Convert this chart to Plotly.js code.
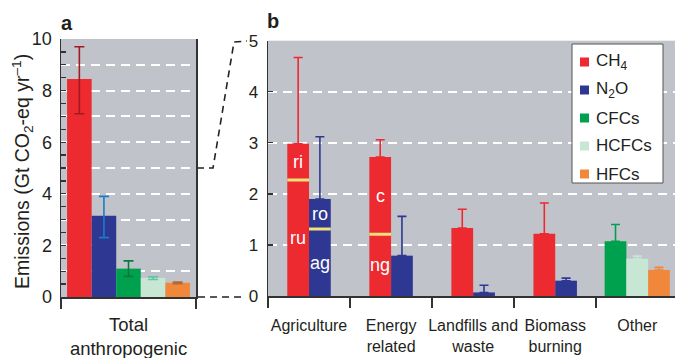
<!DOCTYPE html>
<html>
<head>
<meta charset="utf-8">
<script src="https://cdn.plot.ly/plotly-3.0.1.min.js"></script>
<style>html,body{margin:0;padding:0;background:#fff;overflow:hidden}#chart{width:675px;height:358px}</style>
</head>
<body>
<div id="chart"></div>
<script>
// ---------- data ----------
const seriesNames = ['CH<sub>4</sub>', 'N<sub>2</sub>O', 'CFCs', 'HCFCs', 'HFCs'];

// Panel a: total anthropogenic
const totalCategory = ['Total<br>anthropogenic'];
const totalValues = [8.45, 3.15, 1.10, 0.74, 0.55];
const totalLow    = [7.10, 2.30, 0.80, 0.68, 0.52];
const totalHigh   = [9.70, 3.90, 1.40, 0.78, 0.58];

// Panel b: by sector
const sectors = ['Agriculture', 'Energy<br>related', 'Landfills and<br>waste', 'Biomass<br>burning', 'Other'];
const ch4Values  = [2.98, 2.72, 1.33, 1.22, null];
const ch4High    = [4.67, 3.06, 1.70, 1.82, null];
const n2oValues  = [1.90, 0.79, 0.07, 0.30, null];
const n2oHigh    = [3.12, 1.56, 0.21, 0.35, null];
const cfcValues  = [null, null, null, null, 1.07];
const cfcHigh    = [null, null, null, null, 1.40];
const hcfcValues = [null, null, null, null, 0.73];
const hcfcHigh   = [null, null, null, null, 0.78];
const hfcValues  = [null, null, null, null, 0.51];
const hfcHigh    = [null, null, null, null, 0.56];

// sub-source splits inside bars (boundary value, label below, label above)
const ch4Split      = [2.27, 1.21, null, null, null];
const ch4LowerLabel = ['ru', 'ng', null, null, null];
const ch4UpperLabel = ['ri', 'c', null, null, null];
const n2oSplit      = [1.31, null, null, null, null];
const n2oLowerLabel = ['ag', null, null, null, null];
const n2oUpperLabel = ['ro', null, null, null, null];

const yTitle = 'Emissions (Gt CO<sub>2</sub>-eq yr<sup>–1</sup>)';
const panelAGridVals = [1, 3, 5, 7, 9]; // gridlines between the labelled ticks

// ---------- style ----------
const FONT = 'Liberation Sans, Arial, Helvetica, sans-serif';
const TXT = '#231f20';
const seriesColors = ['#ec2a30', '#2e3893', '#00a14e', '#c7e7d4', '#f0873a'];
const totalErrColors = ['#a3191f', '#1c7cc3', '#0a7a3c', '#5ec6aa', '#b3692f'];
const BG = '#c0c3c9';
const W = 675, H = 358;
const px = x => x / W;
const py = y => (H - y) / H;

const sectorSeries = [ch4Values, n2oValues, cfcValues, hcfcValues, hfcValues];
const sectorHigh = [ch4High, n2oHigh, cfcHigh, hcfcHigh, hfcHigh];

function offsetsFor(seriesList, w) {
  const nCat = seriesList[0].length;
  const offs = seriesList.map(() => new Array(nCat).fill(0));
  for (let i = 0; i < nCat; i++) {
    const present = [];
    seriesList.forEach((s, k) => { if (s[i] !== null) present.push(k); });
    present.forEach((k, r) => { offs[k][i] = -present.length * w / 2 + r * w; });
  }
  return offs;
}

const traces = [];

// panel a
const wA = 0.182;
const totalOffs = offsetsFor(totalValues.map(v => [v]), wA);
totalValues.forEach((v, k) => {
  traces.push({
    type: 'bar', xaxis: 'x', yaxis: 'y', showlegend: false,
    x: totalCategory, y: [v],
    offset: totalOffs[k], width: [wA],
    marker: {color: seriesColors[k], line: {width: 0}},
    error_y: {type: 'data', symmetric: false, array: [totalHigh[k] - v], arrayminus: [v - totalLow[k]],
              color: totalErrColors[k], thickness: 1.6, width: 5},
    name: seriesNames[k], hoverinfo: 'skip'
  });
});

// panel b
const wB = 0.265;
const sectorOffs = offsetsFor(sectorSeries, wB);
sectorSeries.forEach((vals, k) => {
  traces.push({
    type: 'bar', xaxis: 'x2', yaxis: 'y2', showlegend: false,
    x: sectors, y: vals,
    offset: sectorOffs[k], width: vals.map(() => wB),
    marker: {color: seriesColors[k], line: {width: 0}},
    error_y: {type: 'data', symmetric: false,
              array: vals.map((v, i) => v === null ? null : sectorHigh[k][i] - v),
              arrayminus: vals.map(v => v === null ? null : 0),
              color: seriesColors[k], thickness: 1.6, width: 4.5},
    name: seriesNames[k], hoverinfo: 'skip'
  });
});

const shapes = [];
const annotations = [];

// splits & labels
function addSplits(k, splits, lowLabels, upLabels) {
  const vals = sectorSeries[k];
  splits.forEach((s, i) => {
    if (s === null) return;
    const x0 = i + sectorOffs[k][i];
    shapes.push({type: 'line', xref: 'x2', yref: 'y2', x0: x0, x1: x0 + wB, y0: s, y1: s,
                 line: {color: '#f3e17a', width: 3}});
    const xc = x0 + wB / 2;
    if (lowLabels[i]) annotations.push({xref: 'x2', yref: 'y2', x: xc, y: s / 2, text: lowLabels[i],
      showarrow: false, font: {family: FONT, size: 18, color: '#ffffff'}});
    if (upLabels[i]) annotations.push({xref: 'x2', yref: 'y2', x: xc, y: (s + vals[i]) / 2, text: upLabels[i],
      showarrow: false, font: {family: FONT, size: 18, color: '#ffffff'}});
  });
}
addSplits(0, ch4Split, ch4LowerLabel, ch4UpperLabel);
addSplits(1, n2oSplit, n2oLowerLabel, n2oUpperLabel);

// zoom connector lines
shapes.push({type: 'path', xref: 'paper', yref: 'paper',
  path: `M${px(197)},${py(168)} L${px(213)},${py(168)} L${px(234)},${py(42)} L${px(247)},${py(41)}`,
  line: {color: '#222', width: 1.6, dash: '7px,5px'}});
shapes.push({type: 'line', xref: 'paper', yref: 'paper', x0: px(198), x1: px(241), y0: py(297), y1: py(297),
  line: {color: '#222', width: 1.6, dash: '7px,5px'}});

// legend box (manual)
shapes.push({type: 'rect', xref: 'paper', yref: 'paper', x0: px(572), x1: px(663), y0: py(183), y1: py(44),
  fillcolor: '#ffffff', line: {color: '#555', width: 1}});
seriesNames.forEach((n, k) => {
  const yc = 62 + k * 28;
  shapes.push({type: 'rect', xref: 'paper', yref: 'paper', x0: px(580), x1: px(589), y0: py(yc + 4.5), y1: py(yc - 4.5),
    fillcolor: seriesColors[k], line: {width: 0}});
  annotations.push({xref: 'paper', yref: 'paper', x: px(594), y: py(yc), xanchor: 'left', yanchor: 'middle',
    text: n, showarrow: false, font: {family: FONT, size: 17, color: TXT}});
});

// panel letters
annotations.push({xref: 'paper', yref: 'paper', x: px(59), y: py(23), xanchor: 'left', yanchor: 'middle',
  text: '<b>a</b>', showarrow: false, font: {family: FONT, size: 20, color: TXT}});
annotations.push({xref: 'paper', yref: 'paper', x: px(265), y: py(21), xanchor: 'left', yanchor: 'middle',
  text: '<b>b</b>', showarrow: false, font: {family: FONT, size: 20, color: TXT}});

// y-axis title
annotations.push({xref: 'paper', yref: 'paper', x: px(22), y: py(172), xanchor: 'center', yanchor: 'middle',
  textangle: -90, text: yTitle, showarrow: false, font: {family: FONT, size: 19.5, color: TXT}});

const gridStyle = {showgrid: true, gridcolor: '#ffffff', gridwidth: 2, griddash: '9px,6px'};

const layout = {
  width: W, height: H,
  margin: {l: 0, r: 0, t: 0, b: 0, autoexpand: false},
  paper_bgcolor: '#ffffff', plot_bgcolor: BG,
  font: {family: FONT, color: TXT},
  showlegend: false,
  barmode: 'overlay',
  xaxis: {
    domain: [px(61), px(196)], anchor: 'y', type: 'category', range: [-0.5, 0.5],
    tickson: 'boundaries', ticks: 'outside', ticklen: 10, tickwidth: 1.5, tickcolor: '#333', tickangle: 0,
    showline: true, linecolor: '#333', linewidth: 1.5, showgrid: false, zeroline: false,
    tickfont: {size: 18.5, color: TXT}, ticklabelstandoff: 10, automargin: false, fixedrange: true
  },
  yaxis: Object.assign({
    domain: [py(297), py(39)], anchor: 'x', range: [0, 10], tick0: 0, dtick: 2,
    ticks: 'inside', ticklen: 5, tickwidth: 1.3, tickcolor: '#333',
    minor: {tick0: 0, dtick: 0.5, ticks: 'inside', ticklen: 5, tickwidth: 1.3, tickcolor: '#333', showgrid: false},
    showline: true, linecolor: '#333', linewidth: 1.5, mirror: true, zeroline: false,
    tickfont: {size: 18, color: TXT}, ticklabelstandoff: 4, automargin: false, fixedrange: true
  }, gridStyle),
  yaxis3: Object.assign({
    domain: [py(297), py(39)], anchor: 'x', overlaying: 'y', range: [0, 10],
    tickmode: 'array', tickvals: panelAGridVals, ticks: '', showticklabels: false,
    showline: false, zeroline: false, automargin: false, fixedrange: true
  }, gridStyle),
  xaxis2: {
    domain: [px(268), 1], anchor: 'y2', type: 'category', range: [-0.5, 4.46],
    tickson: 'boundaries', ticks: 'outside', ticklen: 10, tickwidth: 1.5, tickcolor: '#333', tickangle: 0,
    showline: true, linecolor: '#333', linewidth: 1.5, showgrid: false, zeroline: false,
    tickfont: {size: 16, color: TXT}, ticklabelstandoff: 14, automargin: false, fixedrange: true
  },
  yaxis2: Object.assign({
    domain: [py(296), py(40.7)], anchor: 'x2', range: [0, 5], dtick: 1, tick0: 0,
    ticks: 'inside', ticklen: 5, tickwidth: 1.3, tickcolor: '#333',
    showline: true, linecolor: '#333', linewidth: 1.5, zeroline: false,
    tickfont: {size: 17, color: TXT}, ticklabelstandoff: 5, automargin: false, fixedrange: true
  }, gridStyle),
  shapes: shapes,
  annotations: annotations
};

// an invisible trace keeps the overlaid grid axis active
traces.unshift({type: 'scatter', xaxis: 'x', yaxis: 'y3', x: [totalCategory[0]], y: [null],
  mode: 'markers', showlegend: false, hoverinfo: 'skip'});

Plotly.newPlot('chart', traces, layout, {staticPlot: true, displayModeBar: false});
</script>
</body>
</html>
